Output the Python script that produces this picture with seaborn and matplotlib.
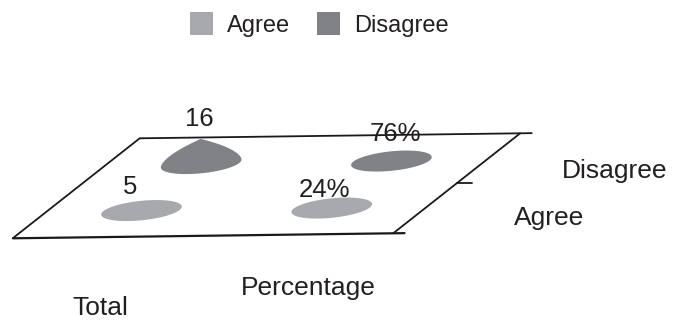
import numpy as np
import matplotlib
matplotlib.use("Agg")
import matplotlib.pyplot as plt
from matplotlib.patches import Polygon, Patch
from matplotlib.transforms import Affine2D
import seaborn as sns

# ---- data -------------------------------------------------------------
categories = ["Total", "Percentage"]
series = ["Agree", "Disagree"]
agree_values = [5, 24]
disagree_values = [16, 76]
value_suffix = ["", "%"]          # Total is a count, Percentage is a share

# ---- style ------------------------------------------------------------
series_colors = {"Agree": "#a7a9ac", "Disagree": "#808285"}
text_color = "#231f20"
line_color = "#1a1a1a"

sns.set_theme(style="white")
plt.rcParams["font.family"] = ["Liberation Sans", "DejaVu Sans"]

fig = plt.figure(figsize=(6.73, 3.22), dpi=100)
ax = fig.add_axes([0, 0, 1, 1])
ax.set_xlim(0, 673)
ax.set_ylim(322, 0)
ax.axis("off")

# Oblique floor: u runs along the categories, v runs back along the series.
to_px = Affine2D.from_values(380.5, -5.0, 127.0, -100.0, 12.7, 238.3)
floor = to_px + ax.transData

def cat_pos(i):
    return (i + 0.5) / len(categories)

def series_pos(j):
    return 0.5 + (j - 0.5) * 0.47

# floor outline (front/back lines run slightly past the right edge)
lw = 1.3
ext = 1.032
ax.plot([0, ext], [0, 0], color=line_color, lw=lw + 0.3, transform=floor,
        solid_capstyle="butt")
ax.plot([0, ext], [1, 1], color=line_color, lw=lw, transform=floor,
        solid_capstyle="butt")
ax.plot([0, 0], [0, 1], color=line_color, lw=lw, transform=floor)
ax.plot([1, 1], [0, 1], color=line_color, lw=lw, transform=floor)

# depth tick between the two series
tx, ty = to_px.transform((1.0, 0.5))
ax.plot([tx, tx + 15], [ty, ty], color=line_color, lw=lw)

# ---- blobs ------------------------------------------------------------
du, dv = 0.1, 0.105
peak_rise = {("Disagree", "Total"): 15.0}
peak_angle, peak_width, peak_power = np.deg2rad(110), np.deg2rad(90), 1.5

values = {"Agree": agree_values, "Disagree": disagree_values}
t = np.linspace(0, 2 * np.pi, 400)
centers = {}
for j, s in enumerate(series):
    for i, c in enumerate(categories):
        u0, v0 = cat_pos(i), series_pos(j)
        pts = to_px.transform(np.column_stack([u0 + du * np.cos(t),
                                               v0 + dv * np.sin(t)]))
        rise = peak_rise.get((s, c), 0.0)
        if rise:
            d = np.abs((t - peak_angle + np.pi) % (2 * np.pi) - np.pi)
            f = np.clip(1 - d / peak_width, 0, 1) ** peak_power
            pts[:, 1] -= rise * f
        ax.add_patch(Polygon(pts, closed=True, facecolor=series_colors[s],
                             edgecolor="none"))
        centers[(s, c)] = to_px.transform((u0, v0))

# ---- value labels -----------------------------------------------------
label_nudge = {
    ("Agree", "Total"): (-11.5, -17.0),
    ("Agree", "Percentage"): (-7.0, -11.5),
    ("Disagree", "Total"): (-2.0, -37.5),
    ("Disagree", "Percentage"): (4.0, -20.0),
}
for s in series:
    for i, c in enumerate(categories):
        x0, y0 = centers[(s, c)]
        dx, dy = label_nudge[(s, c)]
        ax.text(x0 + dx, y0 + dy, f"{values[s][i]:g}{value_suffix[i]}",
                ha="center", va="baseline", fontsize=18.5, color=text_color)

# ---- axis labels ------------------------------------------------------
cat_nudge = [(-8.0, 78.0), (10.0, 60.0)]
for i, c in enumerate(categories):
    x0, y0 = to_px.transform((cat_pos(i), 0.0))
    dx, dy = cat_nudge[i]
    ax.text(x0 + dx, y0 + dy, c, ha="center", va="baseline",
            fontsize=19, color=text_color)

series_nudge = [(87.0, 18.5), (75.0, 18.0)]
for j, s in enumerate(series):
    x0, y0 = to_px.transform((1.0, series_pos(j)))
    dx, dy = series_nudge[j]
    ax.text(x0 + dx, y0 + dy, s, ha="left", va="baseline",
            fontsize=19, color=text_color)

# ---- legend -----------------------------------------------------------
handles = [Patch(facecolor=series_colors[s], edgecolor="none", label=s)
           for s in series]
leg = ax.legend(handles=handles, loc="center", bbox_to_anchor=(319.5, 24.5),
                bbox_transform=ax.transData, ncol=2, frameon=False,
                fontsize=17, handlelength=0.97, handleheight=1.06,
                handletextpad=0.6, columnspacing=1.15, borderpad=0,
                borderaxespad=0)
for txt in leg.get_texts():
    txt.set_color(text_color)

fig.savefig("out.png", dpi=100)
